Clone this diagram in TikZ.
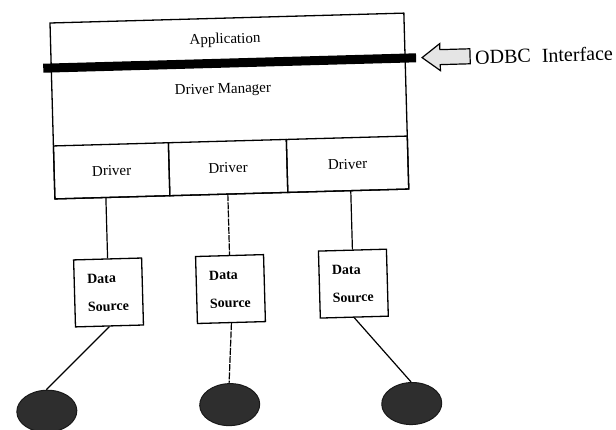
\documentclass[tikz,border=0pt]{standalone}
\usepackage{fontspec}
\setmainfont{Liberation Serif}
\usetikzlibrary{shapes.geometric}
\tikzset{
  frame/.style={draw=black, line width=1.3pt, inner sep=0pt},
  cell/.style={draw=black, line width=1.3pt, minimum height=53pt, inner sep=0pt, font=\fontsize{15}{18}\selectfont},
  lbl/.style={inner sep=0pt, font=\fontsize{15}{18}\selectfont},
  dsbox/.style={draw=black, line width=1.3pt, minimum width=68pt, minimum height=67pt, inner sep=0pt, align=left, text width=42pt, font=\bfseries\fontsize{14}{28}\selectfont},
  db/.style={ellipse, fill=black!82, draw=black!90, line width=1pt, minimum width=60pt, minimum height=42pt, inner sep=0pt},
  link/.style={draw=black, line width=1.2pt},
  broken/.style={dash pattern=on 7pt off 1.2pt},
  bar/.style={line width=9pt, draw=black},
  hollowarrow/.style={draw=black, line width=1.2pt, fill=black!10, line join=miter},
}
\begin{document}
\begin{tikzpicture}[x=1pt,y=-1pt]
\path[use as bounding box, fill=white] (0,0) rectangle (616,429);
\begin{scope}[rotate around={1.6:(50,23)}, transform shape]
  % main stack
  \node[frame, minimum width=354pt, minimum height=176pt] (main) at (227,111) {};
  \node[lbl] (app) at (224.5,45) {Application};
  \node[lbl] (dm) at (221,95) {Driver Manager};
  \node[cell, minimum width=115pt] (drv1) at (107.5,172.5) {Driver};
  \node[cell, minimum width=118pt] (drv2) at (224,172.5) {Driver};
  \node[cell, minimum width=121pt] (drv3) at (343.5,172.5) {Driver};
  % ODBC interface bar
  \coordinate (barL) at (42,68);
  \coordinate (barR) at (415,68);
  \draw[bar] (barL) -- (barR);
  % hollow arrow
  \coordinate (tip) at (421,68);
  \draw[hollowarrow] (tip) -- ++(18,-13.5) -- ++(0,6) -- ++(30,0) -- ++(0,15) -- ++(-30,0) -- ++(0,6) -- cycle;
  \node[anchor=west, inner sep=0pt, font=\fontsize{20}{24}\selectfont] (odbc) at (474,69) {ODBC\hspace{0.55em}Interface};
  % data sources
  \node[dsbox] (ds1) at (101,294) {Data\\Source};
  \node[dsbox] (ds2) at (223,294) {Data\\Source};
  \node[dsbox] (ds3) at (346,292) {Data\\Source};
  \coordinate (c1) at (101,199);
  \coordinate (c2) at (223,199);
  \coordinate (c3) at (346,199);
  \draw[link] (c1) -- (ds1.north);
  \draw[link, broken] (c2) -- (ds2.north);
  \draw[link] (c3) -- (ds3.north);
  % databases
  \node[db] (db1) at (36,411) {};
  \node[db] (db2) at (219,409.5) {};
  \node[db] (db3) at (401,413.5) {};
  \draw[link] (ds1.south) -- (db1.north);
  \draw[link, broken] (ds2.south) -- (db2.north);
  \draw[link] (ds3.south) -- (db3.north);
\end{scope}
\end{tikzpicture}
\end{document}
